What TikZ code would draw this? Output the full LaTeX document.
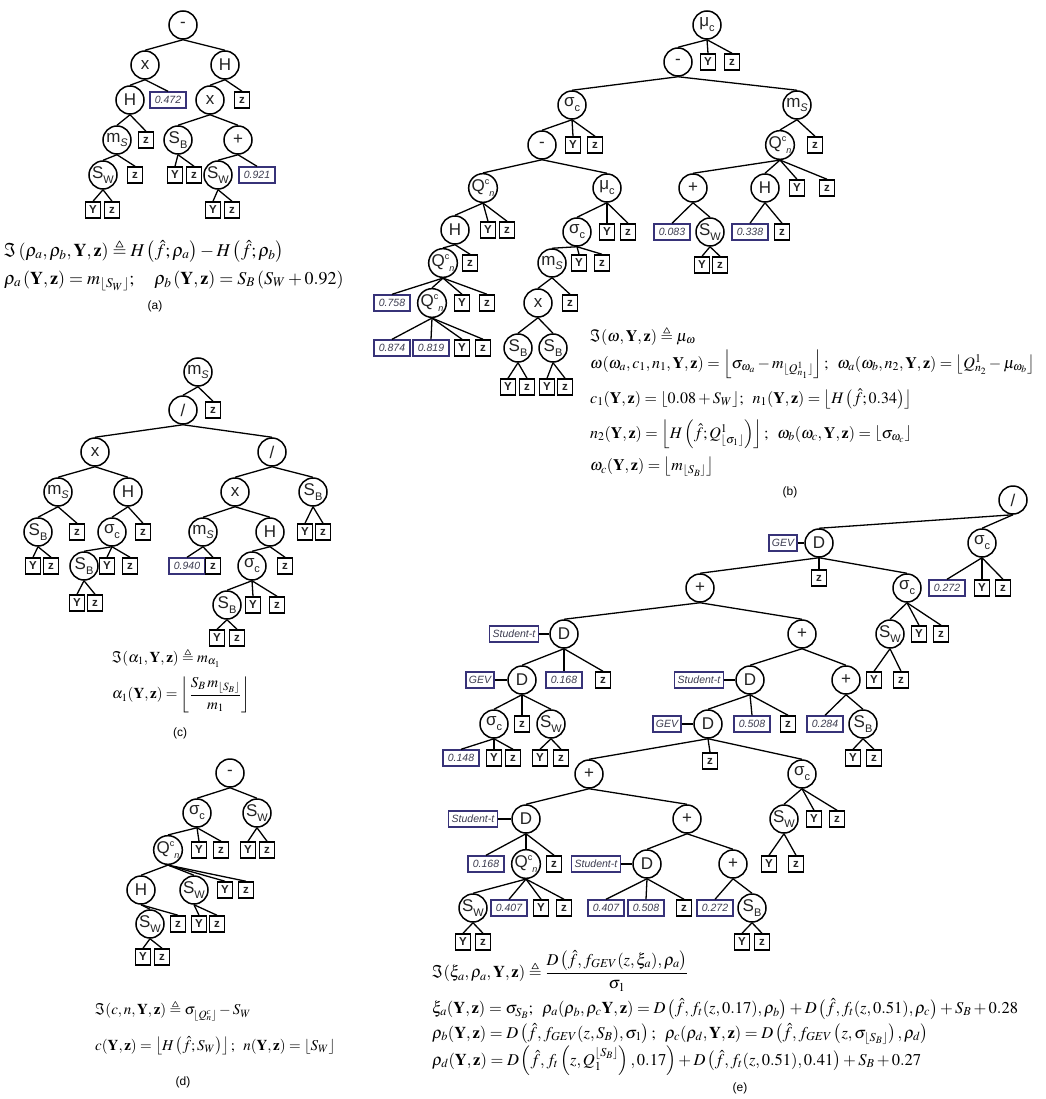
\documentclass[tikz,border=0pt]{standalone}
\usepackage{amsmath,amssymb}
\usepackage{mathptmx}
\usepackage[no-math]{fontspec}
\setmainfont{Liberation Serif}
\setsansfont{Liberation Sans}
\definecolor{txt}{RGB}{35,35,35}
\definecolor{numblue}{RGB}{55,50,120}
\definecolor{numtxt}{RGB}{60,60,80}
\newcommand{\lsub}[2]{#1\raisebox{-0.55ex}{\fontsize{11}{11}\selectfont #2}}
\newcommand{\qcn}{Q\raisebox{0.8ex}{\fontsize{9}{9}\selectfont c}\raisebox{-0.6ex}{\fontsize{9}{9}\selectfont\itshape n}}
\newcommand{\bY}{\mathbf{Y}}
\newcommand{\bz}{\mathbf{z}}
\begin{document}
\begin{tikzpicture}[x=1pt,y=-1pt,
 op/.style={circle,draw=black,fill=white,line width=1.5pt,minimum size=28pt,inner sep=0pt,font=\sffamily\fontsize{17}{17}\selectfont,text=txt},
 leaf/.style={rectangle,draw=black,fill=white,line width=1.5pt,minimum width=15pt,minimum height=16pt,inner sep=0pt,font=\sffamily\bfseries\fontsize{11.5}{11.5}\selectfont,text=txt},
 num/.style={rectangle,draw=numblue,fill=white,line width=1.4pt,minimum width=36pt,minimum height=16pt,inner sep=1pt,font=\sffamily\itshape\fontsize{10.5}{10.5}\selectfont,text=numtxt},
 lbl/.style={num,minimum width=0pt,inner xsep=3pt},
 conn/.style={line width=1.3pt,draw=black},
 fml/.style={anchor=west,inner sep=0pt,font=\fontsize{15}{18}\selectfont},
 captxt/.style={font=\sffamily\fontsize{12}{12}\selectfont}]
\useasboundingbox (0,0) rectangle (1045,1099);

% ---------------- (a)
\node[op] (a0) at (183,25) {-};
\node[op] (a1) at (145,65) {x};
\node[op] (a2) at (225,65) {H};
\node[op] (a3) at (130,100) {H};
\node[num] (a4) at (168,100) {0.472};
\node[op] (a5) at (210,100) {x};
\node[leaf] (a6) at (242,100) {z};
\node[op] (a7) at (117,140) {\lsub{m}{\itshape S}};
\node[leaf] (a8) at (146,140) {z};
\node[op] (a9) at (178,140) {\lsub{S}{B}};
\node[op] (a10) at (238,140) {+};
\node[op] (a11) at (103,175) {\lsub{S}{W}};
\node[leaf] (a12) at (135,175) {z};
\node[leaf] (a13) at (175,175) {Y};
\node[leaf] (a14) at (194,175) {z};
\node[op] (a15) at (218,175) {\lsub{S}{W}};
\node[num] (a16) at (257,175) {0.921};
\node[leaf] (a17) at (93,210) {Y};
\node[leaf] (a18) at (112,210) {z};
\node[leaf] (a19) at (213,210) {Y};
\node[leaf] (a20) at (232,210) {z};
\foreach \p/\c in {a0/a1,a0/a2,a1/a3,a1/a4,a2/a5,a2/a6,a3/a7,a3/a8,a5/a9,a5/a10,a7/a11,a7/a12,a9/a13,a9/a14,a10/a15,a10/a16,a11/a17,a11/a18,a15/a19,a15/a20}
  \draw[conn] (\p.south) -- (\c.north);
\node[fml,font=\fontsize{18}{21}\selectfont] (fa1) at (4,251) {$\Im\left(\rho_a,\rho_b,\bY,\bz\right)\triangleq H\left(\hat{f};\rho_a\right)-H\left(\hat{f};\rho_b\right)$};
\node[fml,font=\fontsize{18}{21}\selectfont] (fa2) at (4,281) {$\rho_a\left(\bY,\bz\right)=m_{\lfloor S_W\rfloor};\quad \rho_b\left(\bY,\bz\right)=S_B\left(S_W+0.92\right)$};
\node[captxt] (ca) at (155,306) {(a)};

% ---------------- (b)
\node[op] (b0) at (707,25) {\lsub{μ}{c}};
\node[op] (b1) at (678,62) {-};
\node[leaf] (b2) at (708,62) {Y};
\node[leaf] (b3) at (732,62) {z};
\node[op] (b4) at (572,105) {\lsub{σ}{c}};
\node[op] (b5) at (797,105) {\lsub{m}{\itshape S}};
\node[op] (b6) at (542,145) {-};
\node[leaf] (b7) at (573,145) {Y};
\node[leaf] (b8) at (595,145) {z};
\node[op] (b9) at (780,145) {\qcn};
\node[leaf] (b10) at (815,145) {z};
\node[op] (b11) at (483,188) {\qcn};
\node[op] (b12) at (607,188) {\lsub{μ}{c}};
\node[op] (b13) at (693,188) {+};
\node[op] (b14) at (765,188) {H};
\node[leaf] (b15) at (797,188) {Y};
\node[leaf] (b16) at (827,188) {z};
\node[op] (b17) at (455,230) {H};
\node[leaf] (b18) at (488,230) {Y};
\node[leaf] (b19) at (507,230) {z};
\node[op] (b20) at (577,232) {\lsub{σ}{c}};
\node[leaf] (b21) at (607,232) {Y};
\node[leaf] (b22) at (628,232) {z};
\node[num] (b23) at (672,232) {0.083};
\node[op] (b24) at (710,232) {\lsub{S}{W}};
\node[num] (b25) at (750,232) {0.338};
\node[leaf] (b26) at (782,232) {z};
\node[leaf] (b27) at (702,265) {Y};
\node[leaf] (b28) at (720,265) {z};
\node[op] (b29) at (443,263) {\qcn};
\node[leaf] (b30) at (470,263) {z};
\node[op] (b31) at (552,263) {\lsub{m}{\itshape S}};
\node[leaf] (b32) at (579,263) {Y};
\node[leaf] (b33) at (602,263) {z};
\node[num] (b34) at (392,303) {0.758};
\node[op] (b35) at (432,303) {\qcn};
\node[leaf] (b36) at (462,303) {Y};
\node[leaf] (b37) at (487,303) {z};
\node[op] (b38) at (538,303) {x};
\node[leaf] (b39) at (570,303) {z};
\node[num] (b40) at (392,348) {0.874};
\node[num] (b41) at (431,348) {0.819};
\node[leaf] (b42) at (462,348) {Y};
\node[leaf] (b43) at (483,348) {z};
\node[op] (b44) at (518,348) {\lsub{S}{B}};
\node[op] (b45) at (553,348) {\lsub{S}{B}};
\node[leaf] (b46) at (508,387) {Y};
\node[leaf] (b47) at (527,387) {z};
\node[leaf] (b48) at (547,387) {Y};
\node[leaf] (b49) at (565,387) {z};
\foreach \p/\c in {b0/b1,b0/b2,b0/b3,b1/b4,b1/b5,b4/b6,b4/b7,b4/b8,b5/b9,b5/b10,b6/b11,b6/b12,b9/b13,b9/b14,b9/b15,b9/b16,b11/b17,b11/b18,b11/b19,b12/b20,b12/b21,b12/b22,b13/b23,b13/b24,b14/b25,b14/b26,b24/b27,b24/b28,b17/b29,b17/b30,b20/b31,b20/b32,b20/b33,b29/b34,b29/b35,b29/b36,b29/b37,b31/b38,b31/b39,b35/b40,b35/b41,b35/b42,b35/b43,b38/b44,b38/b45,b44/b46,b44/b47,b45/b48,b45/b49}
  \draw[conn] (\p.south) -- (\c.north);
\node[fml,font=\fontsize{16}{19}\selectfont] (fb1) at (590,336) {$\Im(\omega,\bY,\bz)\triangleq\mu_\omega$};
\node[fml,font=\fontsize{16}{19}\selectfont] (fb2) at (590,364) {$\omega(\omega_a,c_1,n_1,\bY,\bz)=\left\lfloor\sigma_{\omega_a}-m_{\lfloor Q^1_{n_1}\rfloor}\right\rfloor;\;\;\omega_a(\omega_b,n_2,\bY,\bz)=\left\lfloor Q^1_{n_2}-\mu_{\omega_b}\right\rfloor$};
\node[fml,font=\fontsize{16}{19}\selectfont] (fb3) at (590,399) {$c_1(\bY,\bz)=\lfloor 0.08+S_W\rfloor;\;\; n_1(\bY,\bz)=\left\lfloor H\left(\hat f;0.34\right)\right\rfloor$};
\node[fml,font=\fontsize{16}{19}\selectfont] (fb4) at (590,434) {$n_2(\bY,\bz)=\left\lfloor H\left(\hat f;Q^1_{\lfloor\sigma_1\rfloor}\right)\right\rfloor;\;\;\omega_b(\omega_c,\bY,\bz)=\left\lfloor\sigma_{\omega_c}\right\rfloor$};
\node[fml,font=\fontsize{16}{19}\selectfont] (fb5) at (590,467) {$\omega_c(\bY,\bz)=\left\lfloor m_{\lfloor S_B\rfloor}\right\rfloor$};
\node[captxt] (cb) at (790,492) {(b)};

% ---------------- (c)
\node[op] (c0) at (198,372) {\lsub{m}{\itshape S}};
\node[op] (c1) at (183,410) {/};
\node[leaf] (c2) at (213,410) {z};
\node[op] (c3) at (95,452) {x};
\node[op] (c4) at (272,452) {/};
\node[op] (c5) at (58,492) {\lsub{m}{\itshape S}};
\node[op] (c6) at (128,492) {H};
\node[op] (c7) at (235,492) {x};
\node[op] (c8) at (313,492) {\lsub{S}{B}};
\node[op] (c9) at (38,532) {\lsub{S}{B}};
\node[leaf] (c10) at (77,532) {z};
\node[op] (c11) at (112,532) {\lsub{σ}{c}};
\node[leaf] (c12) at (143,532) {z};
\node[op] (c13) at (203,532) {\lsub{m}{\itshape S}};
\node[op] (c14) at (270,532) {H};
\node[leaf] (c15) at (305,532) {Y};
\node[leaf] (c16) at (323,532) {z};
\node[leaf] (c17) at (33,566) {Y};
\node[leaf] (c18) at (51,566) {z};
\node[op] (c19) at (84,566) {\lsub{S}{B}};
\node[leaf] (c20) at (107,566) {Y};
\node[leaf] (c21) at (130,566) {z};
\node[num] (c22) at (187,566) {0.940};
\node[leaf] (c23) at (213,566) {z};
\node[op] (c24) at (252,566) {\lsub{σ}{c}};
\node[leaf] (c25) at (285,566) {z};
\node[leaf] (c26) at (77,603) {Y};
\node[leaf] (c27) at (95,603) {z};
\node[op] (c28) at (227,605) {\lsub{S}{B}};
\node[leaf] (c29) at (253,605) {Y};
\node[leaf] (c30) at (277,605) {z};
\node[leaf] (c31) at (217,638) {Y};
\node[leaf] (c32) at (237,638) {z};
\foreach \p/\c in {c0/c1,c0/c2,c1/c3,c1/c4,c3/c5,c3/c6,c4/c7,c4/c8,c5/c9,c5/c10,c6/c11,c6/c12,c7/c13,c7/c14,c8/c15,c8/c16,c9/c17,c9/c18,c11/c19,c11/c20,c11/c21,c13/c22,c13/c23,c14/c24,c14/c25,c19/c26,c19/c27,c24/c28,c24/c29,c24/c30,c28/c31,c28/c32}
  \draw[conn] (\p.south) -- (\c.north);
\node[fml] (fc1) at (112,658) {$\Im(\alpha_1,\bY,\bz)\triangleq m_{\alpha_1}$};
\node[fml] (fc2) at (112,695) {$\alpha_1(\bY,\bz)=\left\lfloor\dfrac{S_B\, m_{\lfloor S_B\rfloor}}{m_1}\right\rfloor$};
\node[captxt] (cc) at (180,733) {(c)};

% ---------------- (d)
\node[op] (d0) at (230,773) {-};
\node[op] (d1) at (197,813) {\lsub{σ}{c}};
\node[op] (d2) at (257,813) {\lsub{S}{W}};
\node[op] (d3) at (168,850) {\qcn};
\node[leaf] (d4) at (199,850) {Y};
\node[leaf] (d5) at (221,850) {z};
\node[leaf] (d6) at (248,850) {Y};
\node[leaf] (d7) at (267,850) {z};
\node[op] (d8) at (141,890) {H};
\node[op] (d9) at (194,890) {\lsub{S}{W}};
\node[leaf] (d10) at (225,890) {Y};
\node[leaf] (d11) at (246,890) {z};
\node[op] (d12) at (150,924) {\lsub{S}{W}};
\node[leaf] (d13) at (178,924) {z};
\node[leaf] (d14) at (199,924) {Y};
\node[leaf] (d15) at (217,924) {z};
\node[leaf] (d16) at (143,957) {Y};
\node[leaf] (d17) at (162,957) {z};
\foreach \p/\c in {d0/d1,d0/d2,d1/d3,d1/d4,d1/d5,d2/d6,d2/d7,d3/d8,d3/d9,d3/d10,d3/d11,d8/d12,d8/d13,d9/d14,d9/d15,d12/d16,d12/d17}
  \draw[conn] (\p.south) -- (\c.north);
\node[fml] (fd1) at (95,1011) {$\Im(c,n,\bY,\bz)\triangleq\sigma_{\lfloor Q^c_n\rfloor}-S_W$};
\node[fml] (fd2) at (95,1046) {$c(\bY,\bz)=\left\lfloor H\left(\hat f;S_W\right)\right\rfloor;\;\; n(\bY,\bz)=\lfloor S_W\rfloor$};
\node[captxt] (cd) at (183,1082) {(d)};

% ---------------- (e)
\node[op] (e0) at (1013,500) {/};
\node[op] (e1) at (819,543) {D};
\node[lbl] (e1l) at (783,543) {GEV};
\node[op] (e2) at (982,543) {\lsub{σ}{c}};
\node[leaf] (e4) at (819,578) {z};
\node[op] (e3) at (700,588) {+};
\node[op] (e5) at (907,588) {\lsub{σ}{c}};
\node[num] (e6) at (947,588) {0.272};
\node[leaf] (e7) at (982,588) {Y};
\node[leaf] (e8) at (1003,588) {z};
\node[op] (e9) at (564,634) {D};
\node[lbl] (e9l) at (514,634) {Student-t};
\node[op] (e10) at (802,634) {+};
\node[op] (e11) at (890,634) {\lsub{S}{W}};
\node[leaf] (e12) at (919,634) {Y};
\node[leaf] (e13) at (941,634) {z};
\node[op] (e16) at (522,680) {D};
\node[lbl] (e16l) at (480,680) {GEV};
\node[num] (e17) at (564,680) {0.168};
\node[leaf] (e18) at (603,680) {z};
\node[op] (e19) at (750,680) {D};
\node[lbl] (e19l) at (699,680) {Student-t};
\node[op] (e20) at (846,680) {+};
\node[leaf] (e14) at (874,680) {Y};
\node[leaf] (e15) at (901,680) {z};
\node[op] (e21) at (494,724) {\lsub{σ}{c}};
\node[leaf] (e22) at (522,724) {z};
\node[op] (e23) at (551,724) {\lsub{S}{W}};
\node[op] (e24) at (708,724) {D};
\node[lbl] (e24l) at (667,724) {GEV};
\node[num] (e25) at (752,724) {0.508};
\node[leaf] (e26) at (788,724) {z};
\node[num] (e27) at (825,724) {0.284};
\node[op] (e28) at (863,724) {\lsub{S}{B}};
\node[num] (e29) at (461,758) {0.148};
\node[leaf] (e30) at (494,758) {Y};
\node[leaf] (e31) at (513,758) {z};
\node[leaf] (e32) at (540,758) {Y};
\node[leaf] (e33) at (561,758) {z};
\node[leaf] (e37) at (710,761) {z};
\node[leaf] (e34) at (853,758) {Y};
\node[leaf] (e35) at (874,758) {z};
\node[op] (e36) at (589,774) {+};
\node[op] (e38) at (802,774) {\lsub{σ}{c}};
\node[op] (e39) at (526,819) {D};
\node[lbl] (e39l) at (473,819) {Student-t};
\node[op] (e40) at (687,819) {+};
\node[op] (e41) at (784,819) {\lsub{S}{W}};
\node[leaf] (e42) at (814,819) {Y};
\node[leaf] (e43) at (837,819) {z};
\node[num] (e44) at (486,864) {0.168};
\node[op] (e45) at (526,864) {\qcn};
\node[leaf] (e46) at (554,864) {z};
\node[op] (e47) at (647,864) {D};
\node[lbl] (e47l) at (596,864) {Student-t};
\node[op] (e48) at (733,864) {+};
\node[leaf] (e49) at (769,864) {Y};
\node[leaf] (e50) at (796,864) {z};
\node[op] (e51) at (473,908) {\lsub{S}{W}};
\node[num] (e52) at (509,908) {0.407};
\node[leaf] (e53) at (541,908) {Y};
\node[leaf] (e54) at (564,908) {z};
\node[num] (e55) at (606,908) {0.407};
\node[num] (e56) at (646,908) {0.508};
\node[leaf] (e57) at (684,908) {z};
\node[num] (e58) at (715,908) {0.272};
\node[op] (e59) at (752,908) {\lsub{S}{B}};
\node[leaf] (e60) at (463,942) {Y};
\node[leaf] (e61) at (483,942) {z};
\node[leaf] (e62) at (742,942) {Y};
\node[leaf] (e63) at (762,942) {z};
\foreach \p/\c in {e0/e1,e0/e2,e2/e6,e2/e7,e2/e8,e1/e3,e1/e4,e1/e5,e5/e11,e5/e12,e5/e13,e11/e14,e11/e15,e3/e9,e3/e10,e9/e16,e9/e17,e9/e18,e10/e19,e10/e20,e16/e21,e16/e22,e16/e23,e21/e29,e21/e30,e21/e31,e23/e32,e23/e33,e19/e24,e19/e25,e19/e26,e20/e27,e20/e28,e28/e34,e28/e35,e24/e36,e24/e37,e24/e38,e38/e41,e38/e42,e38/e43,e41/e49,e41/e50,e36/e39,e36/e40,e39/e44,e39/e45,e39/e46,e40/e47,e40/e48,e45/e51,e45/e52,e45/e53,e45/e54,e47/e55,e47/e56,e47/e57,e48/e58,e48/e59,e51/e60,e51/e61,e59/e62,e59/e63}
  \draw[conn] (\p.south) -- (\c.north);
\foreach \l/\d in {e1l/e1,e9l/e9,e16l/e16,e19l/e19,e24l/e24,e39l/e39,e47l/e47}
  \draw[conn] (\l.east) -- (\d.west);
\node[fml,font=\fontsize{16.5}{20}\selectfont] (fe1) at (432,971) {$\Im(\xi_a,\rho_a,\bY,\bz)\triangleq\dfrac{D\left(\hat f,f_{GEV}(z,\xi_a),\rho_a\right)}{\sigma_1}$};
\node[fml,font=\fontsize{16.5}{20}\selectfont] (fe2) at (432,1009) {$\xi_a(\bY,\bz)=\sigma_{S_B};\;\;\rho_a(\rho_b,\rho_c\bY,\bz)=D\left(\hat f,f_t(z,0.17),\rho_b\right)+D\left(\hat f,f_t(z,0.51),\rho_c\right)+S_B+0.28$};
\node[fml,font=\fontsize{16.5}{20}\selectfont] (fe3) at (432,1034) {$\rho_b(\bY,\bz)=D\left(\hat f,f_{GEV}(z,S_B),\sigma_1\right);\;\;\rho_c(\rho_d,\bY,\bz)=D\left(\hat f,f_{GEV}\left(z,\sigma_{\lfloor S_B\rfloor}\right),\rho_d\right)$};
\node[fml,font=\fontsize{16.5}{20}\selectfont] (fe4) at (432,1061) {$\rho_d(\bY,\bz)=D\left(\hat f,f_t\left(z,Q_1^{\lfloor S_B\rfloor}\right),0.17\right)+D\left(\hat f,f_t(z,0.51),0.41\right)+S_B+0.27$};
\node[captxt] (ce) at (740,1088) {(e)};
\end{tikzpicture}
\end{document}
